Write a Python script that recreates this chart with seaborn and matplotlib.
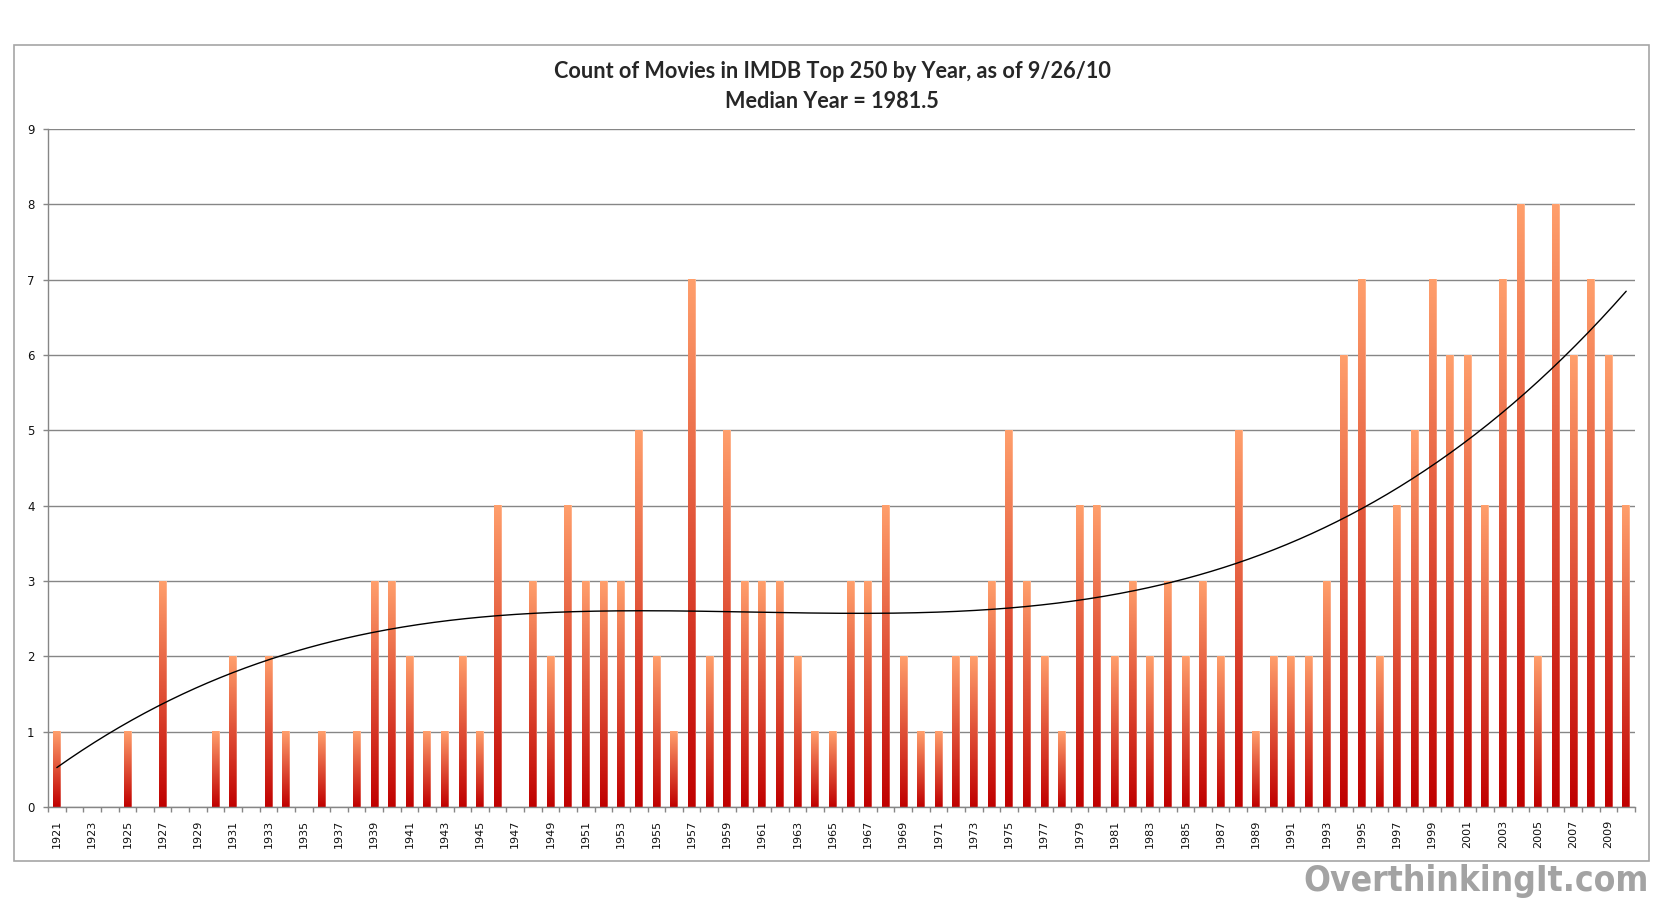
import numpy as np
import pandas as pd
import matplotlib
matplotlib.use("Agg")
import matplotlib.pyplot as plt
import seaborn as sns
from matplotlib import font_manager as fm
from matplotlib.colors import to_rgb
from matplotlib.patches import Rectangle

# ---------------- data ----------------
years = list(range(1921, 2011))
counts = [
    1, 0, 0, 0, 1, 0, 3, 0, 0, 1,   # 1921-1930
    2, 0, 2, 1, 0, 1, 0, 1, 3, 3,   # 1931-1940
    2, 1, 1, 2, 1, 4, 0, 3, 2, 4,   # 1941-1950
    3, 3, 3, 5, 2, 1, 7, 2, 5, 3,   # 1951-1960
    3, 3, 2, 1, 1, 3, 3, 4, 2, 1,   # 1961-1970
    1, 2, 2, 3, 5, 3, 2, 1, 4, 4,   # 1971-1980
    2, 3, 2, 3, 2, 3, 2, 5, 1, 2,   # 1981-1990
    2, 2, 3, 6, 7, 2, 4, 5, 7, 6,   # 1991-2000
    6, 4, 7, 8, 2, 8, 6, 7, 6, 4,   # 2001-2010
]
year_labels = [str(y) for y in years]
y_ticks = list(range(0, 10))
title_lines = ["Count of Movies in IMDB Top 250 by Year, as of 9/26/10",
               "Median Year = 1981.5"]
watermark = "OverthinkingIt.com"

# ---------------- style ----------------
sns.set_style("white")
plt.rcParams["font.family"] = ["DejaVu Sans"]

W, H = 1664, 907
fig = plt.figure(figsize=(W / 100, H / 100), dpi=100)
fig.patch.set_facecolor("white")

def fx(px):
    return px / W

def fy(py):
    return 1 - py / H

ax = fig.add_axes([fx(48), fy(807), fx(1635) - fx(48), fy(129) - fy(807)])
ax.set_facecolor("white")

df = pd.DataFrame({"year": year_labels, "count": counts})
sns.barplot(data=df, x="year", y="count", order=year_labels, ax=ax,
            width=0.42, color="#C00000", saturation=1, zorder=2)

# gradient fill per bar
top_c = np.array(to_rgb("#FF9F6C"))
bot_c = np.array(to_rgb("#C00000"))
t = np.linspace(0, 1, 256)[:, None]
base = bot_c[None, :] * (1 - t) + top_c[None, :] * t  # row 0 = bottom
ncol = 12
img = np.repeat(base[:, None, :], ncol, axis=1)
img[:, -1, :] = img[:, -1, :] * 0.55 + 0.45 * np.array([1.0, 0.9, 0.85])
for p in ax.patches:
    h = p.get_height()
    if h <= 0:
        p.set_visible(False)
        continue
    x0 = p.get_x()
    w = p.get_width()
    ax.imshow(img, extent=[x0, x0 + w, 0, h], origin="lower",
              aspect="auto", interpolation="bilinear", zorder=2)
    p.set_visible(False)

# polynomial trendline (order 3) over the years that have entries
idx = np.arange(1, len(counts) + 1)
cnt = np.array(counts, dtype=float)
mask = cnt > 0
coef = np.polyfit(idx[mask], cnt[mask], 3)
xs = np.linspace(1, len(counts), 500)
ax.plot(xs - 1, np.polyval(coef, xs), color="black", lw=1.0, zorder=3)

# axes
ax.set_xlim(-0.5, len(years) - 0.5)
ax.set_ylim(0, 9)
ax.set_yticks(y_ticks)
ax.set_yticklabels([str(v) for v in y_ticks])
grey = "#868686"
ax.grid(axis="y", color=grey, lw=1.0, zorder=1)
ax.grid(axis="x", visible=False)
ax.set_axisbelow(True)
for s in ["top", "right"]:
    ax.spines[s].set_visible(False)
for s in ["left", "bottom"]:
    ax.spines[s].set_visible(True)
    ax.spines[s].set_color(grey)
    ax.spines[s].set_linewidth(1.0)
    ax.spines[s].set_zorder(4)

ax.set_xticks(np.arange(0, len(years), 2))
ax.set_xticklabels(year_labels[::2], rotation=90, fontsize=8.0)
ax.set_xticks(np.arange(-0.5, len(years), 1), minor=True)
ax.tick_params(axis="x", which="major", length=0, pad=9.4, labelcolor="#111111")
ax.tick_params(axis="x", which="minor", length=3.6, width=1.0, color=grey,
               direction="out", bottom=True)
ax.tick_params(axis="y", which="major", length=3.6, width=1.0, color=grey,
               direction="out", left=True, labelsize=8.5, pad=6.0,
               labelcolor="#111111")
ax.set_xlabel("")
ax.set_ylabel("")

# outer chart frame
fig.add_artist(Rectangle((fx(14), fy(861)), fx(1649) - fx(14), fy(45) - fy(861),
                         transform=fig.transFigure, fill=False,
                         edgecolor="#A6A6A6", lw=1.2))

# title
title_font = ["Lato", "DejaVu Sans"]
fig.text(0.5, fy(72), title_lines[0], ha="center", va="center",
         fontsize=15.6, fontweight="bold", family=title_font)
fig.text(0.5, fy(102), title_lines[1], ha="center", va="center",
         fontsize=15.6, fontweight="bold", family=title_font)

# watermark: choose a narrow bold font if one exists
flist = fm.fontManager.ttflist
names = {f.name for f in flist}
wm_stretch = "normal"
if "Liberation Sans Narrow" in names:
    wm_family = "Liberation Sans Narrow"
elif any(f.name == "DejaVu Sans" and f.stretch == "condensed" for f in flist):
    wm_family = "DejaVu Sans"
    wm_stretch = "condensed"
else:
    wm_family = "DejaVu Sans Mono"
wm = fig.text(fx(1649), fy(881), watermark, ha="right", va="center",
              fontsize=28, fontweight="bold", color="#A3A3A3",
              family=[wm_family], fontstretch=wm_stretch)
r = fig.canvas.get_renderer()
bb = wm.get_window_extent(renderer=r)
if bb.width > 0:
    wm.set_fontsize(28 * 346 / bb.width)

fig.savefig("out.png", dpi=100, facecolor="white")
